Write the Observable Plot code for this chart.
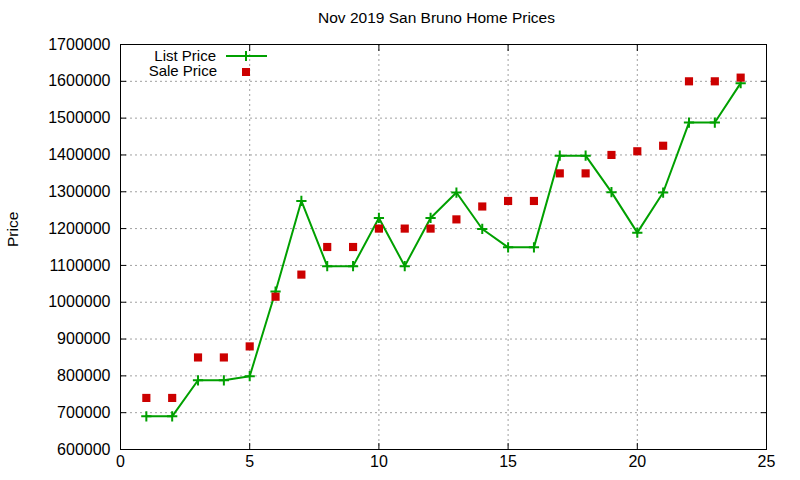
<!DOCTYPE html>
<html>
<head>
<meta charset="utf-8">
<script src="https://cdn.jsdelivr.net/npm/d3@7"></script>
<script src="https://cdn.jsdelivr.net/npm/@observablehq/plot@0.6"></script>
<style>
  html, body { margin: 0; padding: 0; background: #fff; }
  #wrap { position: relative; width: 800px; height: 480px; font-family: "Liberation Sans", Arial, sans-serif; }
  #title { height: 30px; line-height: 36px; padding-left: 73px; width: 727px; text-align: center; font-size: 15.5px; color: #000; white-space: nowrap; }
  #legend { position: absolute; left: 0; top: 0; pointer-events: none; }
</style>
</head>
<body>
<div id="wrap">
  <div id="title">Nov 2019 San Bruno Home Prices</div>
  <div id="chart"></div>
</div>
<script>
const titleText = "Nov 2019 San Bruno Home Prices";
const yLabel = "Price";
const seriesNames = ["List Price", "Sale Price"];
const index = [1,2,3,4,5,6,7,8,9,10,11,12,13,14,15,16,17,18,19,20,21,22,23,24];
const listPrice = [690000,690000,788000,788000,799000,1029000,1275000,1098000,1098000,1229000,1098000,1229000,1298000,1199000,1149000,1149000,1398000,1398000,1299000,1189000,1298000,1488000,1488000,1595000];
const salePrice = [740000,740000,850000,850000,880000,1015000,1075000,1150000,1150000,1200000,1200000,1200000,1225000,1260000,1275000,1275000,1350000,1350000,1400000,1410000,1425000,1600000,1600000,1610000];
const xTicks = [0,5,10,15,20,25];
const yTicks = [600000,700000,800000,900000,1000000,1100000,1200000,1300000,1400000,1500000,1600000,1700000];

const listData = index.map((x, i) => ({x, y: listPrice[i]}));
const saleData = index.map((x, i) => ({x, y: salePrice[i]}));

const green = "#00a000";
const red = "#cc0000";
const font = '"Liberation Sans", Arial, sans-serif';

const chart = Plot.plot({
  width: 800,
  height: 450,
  marginLeft: 120,
  marginRight: 34,
  marginTop: 14,
  marginBottom: 31,
  style: {fontFamily: font, fontSize: "16px", color: "#000", background: "#fff"},
  x: {domain: [0, 25], ticks: xTicks},
  y: {domain: [600000, 1700000], ticks: yTicks},
  marks: [
    Plot.gridX(xTicks.slice(1, -1), {stroke: "#a0a0a0", strokeOpacity: 1, strokeDasharray: "2,3"}),
    Plot.gridY(yTicks.slice(1, -1), {stroke: "#a0a0a0", strokeOpacity: 1, strokeDasharray: "2,3"}),
    Plot.axisX(xTicks, {anchor: "bottom", tickSize: -6, tickPadding: 12, tickFormat: d => String(d), label: null, stroke: "#000"}),
    Plot.axisX(xTicks, {anchor: "top", tickSize: -6, tickFormat: () => "", label: null}),
    Plot.axisY(yTicks, {anchor: "left", tickSize: -6, tickPadding: 16, tickFormat: d => String(d), label: null}),
    Plot.axisY(yTicks, {anchor: "right", tickSize: -6, tickFormat: () => "", label: null}),
    Plot.text([yLabel], {frameAnchor: "left", dx: -107, rotate: -90, fontSize: 15.5}),
    Plot.frame({stroke: "#000", strokeWidth: 1}),
    Plot.line(listData, {x: "x", y: "y", stroke: green, strokeWidth: 2}),
    Plot.dot(listData, {x: "x", y: "y", symbol: "plus", r: 3.4, stroke: green, strokeWidth: 2}),
    Plot.dot(saleData, {x: "x", y: "y", symbol: "square", r: 4.6, fill: red, stroke: null})
  ]
});
document.getElementById("chart").appendChild(chart);

// Legend (inside the plot frame, top-left)
const leg = d3.select("#wrap").append("svg")
  .attr("id", "legend").attr("width", 800).attr("height", 480)
  .style("font-family", font).style("font-size", "15px");
leg.append("text").attr("x", 216).attr("y", 55.5).attr("dy", "0.35em").attr("text-anchor", "end").text(seriesNames[0]);
leg.append("text").attr("x", 217).attr("y", 71).attr("dy", "0.35em").attr("text-anchor", "end").text(seriesNames[1]);
leg.append("line").attr("x1", 226).attr("x2", 267).attr("y1", 56).attr("y2", 56).attr("stroke", green).attr("stroke-width", 2);
leg.append("path").attr("d", "M241,56H251M246,51V61").attr("stroke", green).attr("stroke-width", 2);
leg.append("rect").attr("x", 242).attr("y", 68).attr("width", 8).attr("height", 8).attr("fill", red);
</script>
</body>
</html>
